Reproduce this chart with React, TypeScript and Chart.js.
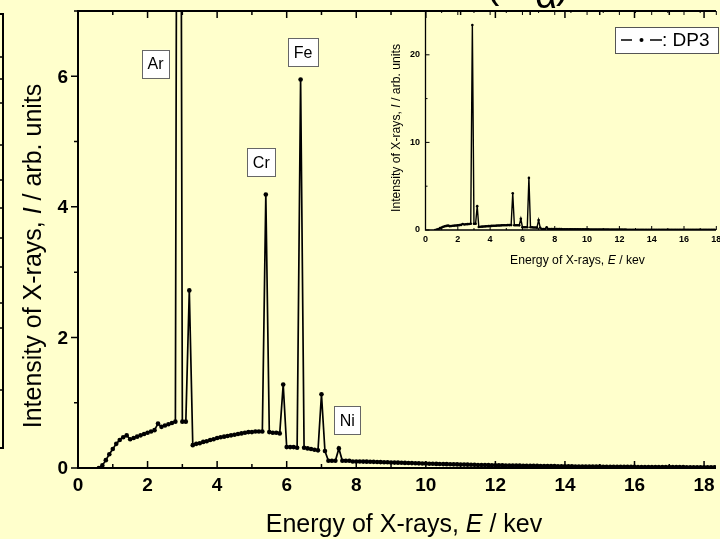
import React, { useEffect, useRef } from 'react';
import { Chart, registerables } from 'chart.js';
Chart.register(...registerables);

// ---------- data ----------
const energies = [
  0.6, 0.7, 0.8, 0.9,
  1.0, 1.1, 1.2, 1.3, 1.4, 1.5, 1.6, 1.7, 1.8, 1.9,
  2.0, 2.1, 2.2, 2.3, 2.4, 2.5, 2.6, 2.7, 2.8, 2.9,
  3.0, 3.1, 3.2, 3.3, 3.4, 3.5, 3.6, 3.7, 3.8, 3.9,
  4.0, 4.1, 4.2, 4.3, 4.4, 4.5, 4.6, 4.7, 4.8, 4.9,
  5.0, 5.1, 5.2, 5.3, 5.4, 5.5, 5.6, 5.7, 5.8, 5.9,
  6.0, 6.1, 6.2, 6.3, 6.4, 6.5, 6.6, 6.7, 6.8, 6.9,
  7.0, 7.1, 7.2, 7.3, 7.4, 7.5, 7.6, 7.7, 7.8, 7.9,
  8.0, 8.1, 8.2, 8.3, 8.4, 8.5, 8.6, 8.7, 8.8, 8.9,
  9.0, 9.1, 9.2, 9.3, 9.4, 9.5, 9.6, 9.7, 9.8, 9.9,
  10.0, 10.1, 10.2, 10.3, 10.4, 10.5, 10.6, 10.7, 10.8, 10.9,
  11.0, 11.1, 11.2, 11.3, 11.4, 11.5, 11.6, 11.7, 11.8, 11.9,
  12.0, 12.1, 12.2, 12.3, 12.4, 12.5, 12.6, 12.7, 12.8, 12.9,
  13.0, 13.1, 13.2, 13.3, 13.4, 13.5, 13.6, 13.7, 13.8, 13.9,
  14.0, 14.1, 14.2, 14.3, 14.4, 14.5, 14.6, 14.7, 14.8, 14.9,
  15.0, 15.1, 15.2, 15.3, 15.4, 15.5, 15.6, 15.7, 15.8, 15.9,
  16.0, 16.1, 16.2, 16.3, 16.4, 16.5, 16.6, 16.7, 16.8, 16.9,
  17.0, 17.1, 17.2, 17.3, 17.4, 17.5, 17.6, 17.7, 17.8, 17.9,
  18.0, 18.1, 18.2, 18.3, 18.4, 18.5, 18.6, 18.7, 18.8, 18.9,
  19.0, 19.1, 19.2, 19.3, 19.4, 19.5, 19.6, 19.7, 19.8, 19.9,
  20.0,
];

const intensities = [
  0.00, 0.04, 0.12, 0.21,
  0.29, 0.37, 0.43, 0.47, 0.50, 0.44, 0.46, 0.48, 0.50, 0.52,
  0.54, 0.56, 0.58, 0.68, 0.63, 0.65, 0.67, 0.69, 0.71, 23.4,
  0.71, 0.71, 2.72, 0.35, 0.37, 0.38, 0.40, 0.41, 0.43, 0.44,
  0.46, 0.47, 0.48, 0.49, 0.50, 0.51, 0.52, 0.53, 0.54, 0.55,
  0.55, 0.56, 0.56, 0.56, 4.19, 0.55, 0.54, 0.54, 0.53, 1.28,
  0.32, 0.32, 0.32, 0.31, 5.95, 0.31, 0.30, 0.29, 0.28, 0.27,
  1.13, 0.26, 0.11, 0.11, 0.11, 0.30, 0.11, 0.11, 0.11, 0.10,
  0.100, 0.100, 0.098, 0.097, 0.095, 0.094, 0.092, 0.090, 0.089, 0.087,
  0.085, 0.083, 0.082, 0.080, 0.078, 0.077, 0.075, 0.073, 0.071, 0.070,
  0.068, 0.066, 0.065, 0.063, 0.062, 0.060, 0.059, 0.057, 0.056, 0.055,
  0.053, 0.052, 0.051, 0.050, 0.048, 0.047, 0.046, 0.045, 0.044, 0.043,
  0.042, 0.041, 0.040, 0.039, 0.038, 0.037, 0.036, 0.036, 0.035, 0.034,
  0.033, 0.032, 0.032, 0.031, 0.030, 0.029, 0.029, 0.028, 0.027, 0.027,
  0.026, 0.026, 0.025, 0.024, 0.024, 0.023, 0.023, 0.022, 0.022, 0.021,
  0.021, 0.020, 0.020, 0.019, 0.019, 0.019, 0.018, 0.018, 0.017, 0.017,
  0.017, 0.016, 0.016, 0.016, 0.015, 0.015, 0.015, 0.014, 0.014, 0.014,
  0.014, 0.013, 0.013, 0.013, 0.013, 0.012, 0.012, 0.012, 0.012, 0.012,
  0.011, 0.011, 0.011, 0.011, 0.011, 0.011, 0.011, 0.011, 0.011, 0.011,
  0.010, 0.010, 0.010, 0.010, 0.010, 0.010, 0.010, 0.010, 0.010, 0.010,
  0.010,
];

const seriesName = 'DP3';

const mainXMajor = [0, 2, 4, 6, 8, 10, 12, 14, 16, 18];
const mainXMinor = [1, 3, 5, 7, 9, 11, 13, 15, 17];
const mainYMajor = [0, 2, 4, 6];
const mainYMinor = [1, 3, 5, 7];

const insetXMajor = [0, 2, 4, 6, 8, 10, 12, 14, 16, 18];
const insetXMinor = [1, 3, 5, 7, 9, 11, 13, 15, 17];
const insetYMajor = [0, 10, 20];
const insetYMinor = [5, 15, 25];

const peakLabels = ['Ar', 'Cr', 'Fe', 'Ni'];
const peakLabelX = [2.23, 5.27, 6.47, 7.74];
const peakLabelY = [6.19, 4.68, 6.37, 0.73];

const FONT = '"Liberation Sans", Arial, sans-serif';

function drawRich(ctx: CanvasRenderingContext2D, parts: [string, string][], cx: number, cy: number) {
  let total = 0;
  const widths = parts.map(([t, f]) => {
    ctx.font = f;
    const w = ctx.measureText(t).width;
    total += w;
    return w;
  });
  let x = cx - total / 2;
  ctx.textAlign = 'left';
  ctx.textBaseline = 'middle';
  parts.forEach(([t, f], i) => {
    ctx.font = f;
    ctx.fillText(t, x, cy);
    x += widths[i];
  });
}

const mainDecor = {
  id: 'mainDecor',
  afterDraw(chart: any) {
    const { ctx, chartArea: a, scales } = chart;
    const x = scales.x;
    const y = scales.y;
    ctx.save();
    ctx.strokeStyle = '#000';
    ctx.fillStyle = '#000';

    // axis frame
    ctx.lineWidth = 2;
    ctx.beginPath();
    ctx.moveTo(a.left, a.top - 1);
    ctx.lineTo(a.left, a.bottom + 1);
    ctx.moveTo(a.left - 1, a.bottom);
    ctx.lineTo(a.right, a.bottom);
    ctx.moveTo(a.left - 1, a.top);
    ctx.lineTo(a.right, a.top);
    ctx.stroke();

    // ticks
    ctx.lineWidth = 1.5;
    ctx.beginPath();
    mainXMajor.forEach((v) => {
      const p = x.getPixelForValue(v);
      ctx.moveTo(p, a.bottom);
      ctx.lineTo(p, a.bottom - 7);
      ctx.moveTo(p, a.top);
      ctx.lineTo(p, a.top + 7);
    });
    mainXMinor.forEach((v) => {
      const p = x.getPixelForValue(v);
      ctx.moveTo(p, a.bottom);
      ctx.lineTo(p, a.bottom - 4);
      ctx.moveTo(p, a.top);
      ctx.lineTo(p, a.top + 4);
    });
    mainYMajor.forEach((v) => {
      const p = y.getPixelForValue(v);
      ctx.moveTo(a.left, p);
      ctx.lineTo(a.left - 7, p);
    });
    mainYMinor.forEach((v) => {
      const p = y.getPixelForValue(v);
      ctx.moveTo(a.left, p);
      ctx.lineTo(a.left - 4, p);
    });
    ctx.stroke();

    // tick labels
    ctx.font = `bold 19px ${FONT}`;
    ctx.textAlign = 'center';
    ctx.textBaseline = 'middle';
    mainXMajor.forEach((v) => {
      ctx.fillText(String(v), x.getPixelForValue(v), a.bottom + 18);
    });
    ctx.textAlign = 'right';
    mainYMajor.forEach((v) => {
      ctx.fillText(String(v), a.left - 10, y.getPixelForValue(v) + 1);
    });

    // axis titles
    const reg = `25px ${FONT}`;
    const ita = `italic 25px ${FONT}`;
    drawRich(ctx, [['Energy of X-rays, ', reg], ['E', ita], [' / kev', reg]], 404, 525);
    ctx.save();
    ctx.translate(34, 256);
    ctx.rotate(-Math.PI / 2);
    drawRich(ctx, [['Intensity of X-rays, ', reg], ['I', ita], [' / arb. units', reg]], 0, 0);
    ctx.restore();

    // peak labels
    peakLabels.forEach((t, i) => {
      const cx = x.getPixelForValue(peakLabelX[i]);
      const cy = y.getPixelForValue(peakLabelY[i]);
      ctx.font = `16px ${FONT}`;
      const w = ctx.measureText(t).width + 11;
      const h = 28;
      ctx.fillStyle = '#fff';
      ctx.fillRect(cx - w / 2, cy - h / 2, w, h);
      ctx.strokeStyle = '#666';
      ctx.lineWidth = 1;
      ctx.strokeRect(Math.round(cx - w / 2) + 0.5, Math.round(cy - h / 2) + 0.5, Math.round(w), h);
      ctx.fillStyle = '#000';
      ctx.textAlign = 'center';
      ctx.textBaseline = 'middle';
      ctx.fillText(t, cx, cy + 1);
    });

    // cropped title at the top
    ctx.fillStyle = '#000';
    ctx.textAlign = 'left';
    ctx.textBaseline = 'alphabetic';
    ctx.font = `40px ${FONT}`;
    ctx.fillText('(K', 486, -2);
    ctx.font = `38px ${FONT}`;
    ctx.fillText('\u03b1', 535, 8);
    ctx.font = `40px ${FONT}`;
    ctx.fillText(')', 556, -2);

    // fragment of the neighbouring frame on the left edge
    ctx.strokeStyle = '#000';
    ctx.lineWidth = 2;
    ctx.beginPath();
    ctx.moveTo(3, 13);
    ctx.lineTo(3, 449);
    ctx.moveTo(0, 14);
    ctx.lineTo(4, 14);
    ctx.moveTo(0, 448);
    ctx.lineTo(4, 448);
    ctx.stroke();
    ctx.lineWidth = 1.5;
    ctx.beginPath();
    [57, 79, 103, 145, 180, 208, 238, 267, 303, 328, 390].forEach((p) => {
      ctx.moveTo(0, p);
      ctx.lineTo(3, p);
    });
    ctx.stroke();
    ctx.restore();
  },
};

const insetDecor = {
  id: 'insetDecor',
  afterDraw(chart: any) {
    const { ctx, chartArea: a, scales } = chart;
    const x = scales.x;
    const y = scales.y;
    ctx.save();
    ctx.strokeStyle = '#000';
    ctx.fillStyle = '#000';
    ctx.lineWidth = 1.3;
    ctx.beginPath();
    ctx.moveTo(a.left, a.top);
    ctx.lineTo(a.left, a.bottom + 0.6);
    ctx.moveTo(a.left - 0.6, a.bottom);
    ctx.lineTo(a.right, a.bottom);
    ctx.stroke();

    ctx.lineWidth = 1;
    ctx.beginPath();
    insetXMajor.forEach((v) => {
      const p = x.getPixelForValue(v);
      ctx.moveTo(p, a.bottom);
      ctx.lineTo(p, a.bottom - 4);
      ctx.moveTo(p, a.top);
      ctx.lineTo(p, a.top + 4);
    });
    insetXMinor.forEach((v) => {
      const p = x.getPixelForValue(v);
      ctx.moveTo(p, a.bottom);
      ctx.lineTo(p, a.bottom - 2);
      ctx.moveTo(p, a.top);
      ctx.lineTo(p, a.top + 2);
    });
    insetYMajor.forEach((v) => {
      const p = y.getPixelForValue(v);
      ctx.moveTo(a.left, p);
      ctx.lineTo(a.left + 4, p);
    });
    insetYMinor.forEach((v) => {
      const p = y.getPixelForValue(v);
      ctx.moveTo(a.left, p);
      ctx.lineTo(a.left + 2, p);
    });
    ctx.stroke();

    ctx.font = `bold 9px ${FONT}`;
    ctx.textAlign = 'center';
    ctx.textBaseline = 'middle';
    insetXMajor.forEach((v) => {
      ctx.fillText(String(v), x.getPixelForValue(v), a.bottom + 9.5);
    });
    ctx.textAlign = 'right';
    insetYMajor.forEach((v) => {
      ctx.fillText(String(v), a.left - 5.5, y.getPixelForValue(v));
    });

    const rx = `12.2px ${FONT}`;
    const ix = `italic 12.2px ${FONT}`;
    drawRich(ctx, [['Energy of X-rays, ', rx], ['E', ix], [' / kev', rx]], 237.5, 261);
    const ry = `12.2px ${FONT}`;
    const iy = `italic 12.2px ${FONT}`;
    ctx.save();
    ctx.translate(57, 128);
    ctx.rotate(-Math.PI / 2);
    drawRich(ctx, [['Intensity of X-rays, ', ry], ['I', iy], [' / arb. units', ry]], 0, 0);
    ctx.restore();

    // legend box
    const bx = 275, by = 27, bw = 103, bh = 26;
    ctx.fillStyle = '#fff';
    ctx.fillRect(bx, by, bw, bh);
    ctx.strokeStyle = '#555';
    ctx.lineWidth = 1;
    ctx.strokeRect(bx + 0.5, by + 0.5, bw, bh);
    const ly = by + 13;
    ctx.strokeStyle = '#000';
    ctx.lineWidth = 1.5;
    ctx.beginPath();
    ctx.moveTo(bx + 6, ly);
    ctx.lineTo(bx + 17, ly);
    ctx.moveTo(bx + 35, ly);
    ctx.lineTo(bx + 47, ly);
    ctx.stroke();
    ctx.fillStyle = '#000';
    ctx.beginPath();
    ctx.arc(bx + 26.5, ly, 2, 0, Math.PI * 2);
    ctx.fill();
    ctx.font = `19px ${FONT}`;
    ctx.textAlign = 'left';
    ctx.textBaseline = 'middle';
    ctx.fillText(': ' + chart.data.datasets[0].label, bx + 47, ly + 1);
    ctx.restore();
  },
};

export default function App() {
  const mainRef = useRef<HTMLCanvasElement>(null);
  const insetRef = useRef<HTMLCanvasElement>(null);

  useEffect(() => {
    const points = energies.map((e, i) => ({ x: e, y: intensities[i] }));
    const main = new Chart(mainRef.current as HTMLCanvasElement, {
      type: 'line',
      data: {
        datasets: [
          {
            label: seriesName,
            data: points,
            borderColor: '#000',
            borderWidth: 1.7,
            pointRadius: 2.3,
            pointBackgroundColor: '#000',
            pointBorderWidth: 0,
            tension: 0,
          },
        ],
      },
      options: {
        animation: false,
        responsive: false,
        layout: { padding: { left: 78, top: 11, right: 0, bottom: 71 } },
        scales: {
          x: { type: 'linear', min: 0, max: 18.343, display: false },
          y: { type: 'linear', min: 0, max: 7, display: false },
        },
        plugins: { legend: { display: false }, tooltip: { enabled: false } },
      },
      plugins: [mainDecor],
    } as any);

    const inset = new Chart(insetRef.current as HTMLCanvasElement, {
      type: 'line',
      data: {
        datasets: [
          {
            label: seriesName,
            data: points,
            borderColor: '#000',
            borderWidth: 1.4,
            pointRadius: 1.3,
            pointBackgroundColor: '#000',
            pointBorderWidth: 0,
            tension: 0,
          },
        ],
      },
      options: {
        animation: false,
        responsive: false,
        layout: { padding: { left: 85.5, top: 11, right: 0, bottom: 40 } },
        scales: {
          x: { type: 'linear', min: 0, max: 17.98, display: false },
          y: { type: 'linear', min: 0, max: 25, display: false },
        },
        plugins: { legend: { display: false }, tooltip: { enabled: false } },
      },
      plugins: [insetDecor],
    } as any);

    return () => {
      main.destroy();
      inset.destroy();
    };
  }, []);

  return (
    <div
      style={{
        position: 'fixed',
        left: 0,
        top: 0,
        width: 720,
        height: 539,
        background: '#FFFFCC',
        overflow: 'hidden',
      }}
    >
      <canvas ref={mainRef} width={720} height={539} style={{ position: 'absolute', left: 0, top: 0 }} />
      <canvas ref={insetRef} width={380} height={270} style={{ position: 'absolute', left: 340, top: 0 }} />
    </div>
  );
}
